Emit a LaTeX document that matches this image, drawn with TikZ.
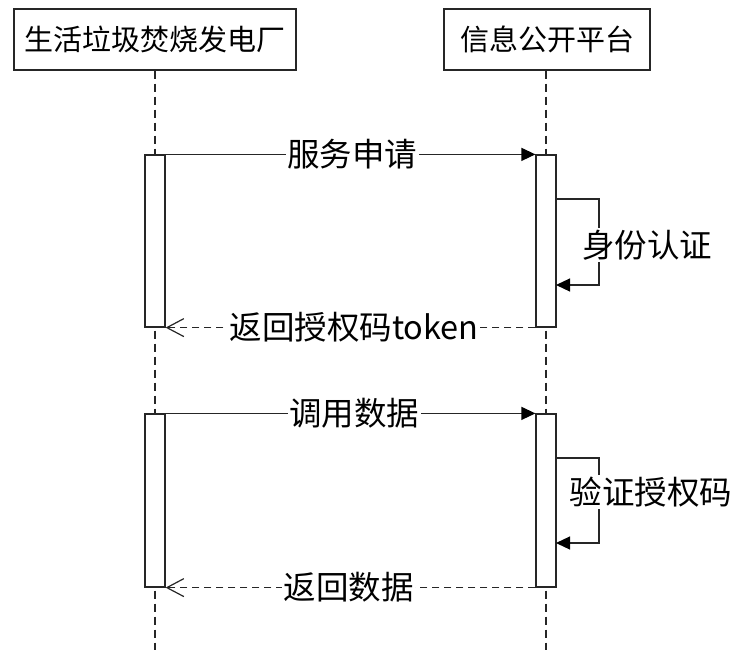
\documentclass[tikz,border=0pt]{standalone}
\usepackage{fontspec}
\setmainfont{Carlito}
\newfontfamily\cjk{Noto Sans CJK SC}
\usetikzlibrary{arrows.meta}
\begin{document}
\begin{tikzpicture}[x=1pt,y=-1pt,line width=1.2pt,
  ln/.style={draw=black!85},
  actor/.style={ln,rectangle,minimum height=61pt,inner sep=0pt,font=\cjk\fontsize{29}{31}\selectfont},
  actbox/.style={ln,fill=white,rectangle,minimum width=20pt,inner sep=0pt},
  life/.style={ln,dash pattern=on 8pt off 5pt},
  msg/.style={fill=white,inner sep=1.5pt,font=\cjk\fontsize{32.5}{34}\selectfont},
  call/.style={ln,-{Triangle[length=14pt,width=13pt,fill=black,color=black]}},
  reply/.style={ln,dash pattern=on 7pt off 5pt,-{Straight Barb[length=17pt,width=18pt]}},
  selfloop/.style={ln,-{Triangle[length=14pt,width=13pt,fill=black,color=black]}}
]
\useasboundingbox (0,0) rectangle (735,650);
% actors
\node[actor,minimum width=282pt] (p1) at (155,39.5) {生活垃圾焚烧发电厂};
\node[actor,minimum width=206pt] (p2) at (547,39.5) {信息公开平台};
\coordinate (e1) at (155,650);
\coordinate (e2) at (546,650);
\draw[life] (p1.south -| e1) -- (e1);
\draw[life] (p2.south -| e2) -- (e2);
% activation boxes
\node[actbox,minimum height=172pt] (a1) at (155,241) {};
\node[actbox,minimum height=172pt] (b1) at (546,241) {};
\node[actbox,minimum height=173pt] (a2) at (155,500.5) {};
\node[actbox,minimum height=173pt] (b2) at (546,500.5) {};
% first exchange
\draw[call] (a1.north east) -- node[msg,pos=0.505] (m1) {服务申请} (b1.north west);
\coordinate (s1a) at (556,199);
\coordinate (s1b) at (556,285);
\draw[selfloop] (s1a) -- (599,199) -- (599,285) -- (s1b);
\node[msg] (l1) at (647,245) {身份认证};
\draw[reply] (b1.south west) -- node[msg,pos=0.49] (m2) {返回授权码token} (a1.south east);
% second exchange
\draw[call] (a2.north east) -- node[msg,pos=0.51] (m3) {调用数据} (b2.north west);
\coordinate (s2a) at (556,458);
\coordinate (s2b) at (556,543);
\draw[selfloop] (s2a) -- (599,458) -- (599,543) -- (s2b);
\node[msg] (l2) at (651,492) {验证授权码};
\draw[reply] (b2.south west) -- node[msg,pos=0.505] (m4) {返回数据} (a2.south east);
\end{tikzpicture}
\end{document}
